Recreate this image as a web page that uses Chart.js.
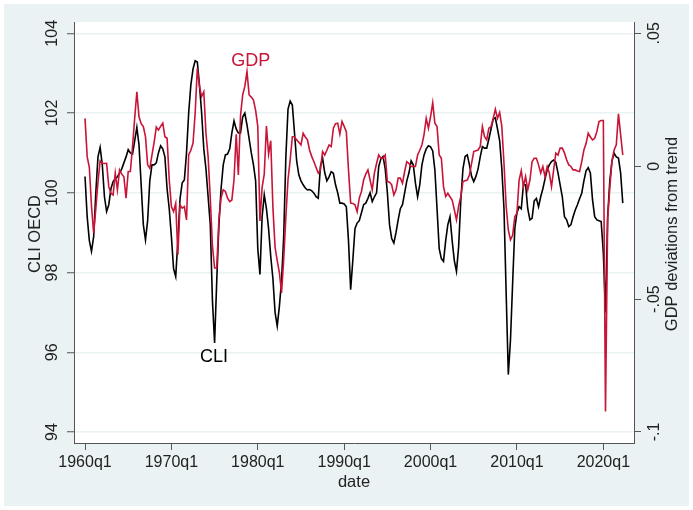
<!DOCTYPE html>
<html>
<head>
<meta charset="utf-8">
<script src="https://cdn.jsdelivr.net/npm/chart.js@4.4.1/dist/chart.umd.min.js"></script>
<style>
  html, body { margin: 0; padding: 0; background: #ffffff; }
  canvas { display: block; }
</style>
</head>
<body>
<canvas id="myChart" width="693" height="510"></canvas>
<script>
// quarters since 1960q1 (0 = 1960q1), one value per quarter
var firstYear = 1960;

var cliValues = [
  100.41, 99.4, 98.8, 98.53, 98.9, 100.0, 100.9, 101.14, 100.7, 99.9,
  99.53, 99.7, 100.1, 100.28, 100.35, 100.4, 100.49, 100.6, 100.75, 100.9,
  101.08, 101.0, 100.97, 101.3, 101.64, 101.2, 100.2, 99.2, 98.82, 99.3,
  100.3, 100.7, 100.7, 100.75, 101.0, 101.18, 101.1, 100.9, 100.1, 99.6,
  98.9, 98.1, 97.9, 98.8, 99.85, 100.25, 100.32, 101.0, 102.0, 102.7,
  103.1, 103.31, 103.28, 102.7, 102.0, 101.1, 100.6, 99.9, 99.2, 97.3,
  96.23, 97.8, 99.2, 100.1, 100.7, 100.95, 100.97, 101.1, 101.5, 101.8,
  101.6, 101.5, 101.5, 101.9, 102.0, 101.7, 101.35, 101.0, 100.7, 100.3,
  98.6, 97.95, 99.4, 99.95, 99.6, 99.1, 98.4, 97.85, 97.0, 96.66,
  97.15, 97.8, 98.9, 100.9, 102.1, 102.3, 102.2, 101.5, 100.8, 100.45,
  100.3, 100.2, 100.12, 100.07, 100.08, 100.05, 99.99, 99.9, 99.86, 100.66,
  100.87, 100.5, 100.3, 100.4, 100.53, 100.49, 100.2, 100.0, 99.74, 99.74,
  99.72, 99.65, 98.8, 97.57, 98.3, 99.1, 99.24, 99.3, 99.5, 99.7,
  99.74, 99.86, 100.0, 99.78, 99.9, 100.0, 100.66, 100.85, 100.91, 100.6,
  100.0, 99.2, 98.85, 98.74, 99.0, 99.32, 99.6, 99.7, 100.0, 100.3,
  100.5, 100.8, 100.7, 100.24, 99.9, 100.2, 100.7, 100.95, 101.1, 101.18,
  101.15, 101.05, 100.57, 99.6, 98.6, 98.35, 98.28, 98.8, 99.2, 99.4,
  98.8, 98.3, 98.03, 98.65, 99.8, 100.6, 100.91, 100.95, 100.7, 100.41,
  100.28, 100.41, 100.6, 100.9, 101.16, 101.12, 101.12, 101.35, 101.6, 101.85,
  101.88, 101.6, 101.3, 100.6, 99.6, 97.5, 95.44, 96.3, 97.73, 99.1,
  99.5, 99.65, 99.6, 100.2, 100.2, 99.6, 99.32, 99.36, 99.8, 99.86,
  99.65, 99.9, 100.1, 100.35, 100.57, 100.7, 100.78, 100.82, 100.76, 100.5,
  100.2, 99.9, 99.4, 99.32, 99.15, 99.2, 99.4, 99.57, 99.7, 99.85,
  99.99, 100.3, 100.55, 100.63, 100.5, 99.82, 99.4, 99.32, 99.3, 99.28,
  98.49, 97.0, 99.4, 100.3, 100.8, 100.99, 100.9, 100.87, 100.5, 99.74
];

var gdpValues = [
  0.018, 0.0036, -0.0005, -0.015, -0.0252, -0.016, -0.006, 0.002, 0.0011, 0.001,
  0.0011, -0.0077, -0.0102, -0.0108, -0.0026, -0.0089, -0.0014, -0.003, -0.004, -0.012,
  -0.002, -0.002, 0.0074, 0.018, 0.028, 0.0186, 0.016, 0.0149, 0.0111, 0.0005,
  -0.0008, 0.0042, 0.009, 0.0147, 0.0136, 0.015, 0.0162, 0.0111, 0.0105, -0.0052,
  -0.0152, -0.0171, -0.014, -0.0333, -0.0146, -0.0158, -0.0152, -0.0202, 0.0042, 0.006,
  0.0086, 0.0199, 0.0368, 0.03, 0.0262, 0.028, 0.0124, 0.0036, -0.012, -0.03,
  -0.0383, -0.0383, -0.02, -0.012, -0.0089, -0.0095, -0.012, -0.0133, -0.0127, -0.005,
  0.012, -0.0033, 0.019, 0.0268, 0.03, 0.0356, 0.0268, 0.026, 0.0249, 0.021,
  0.015, -0.0206, -0.008, -0.003, 0.0151, 0.0045, 0.0096, -0.0155, -0.0305, -0.0355,
  -0.04, -0.0477, -0.035, -0.019, -0.005, 0.0024, 0.0111, 0.0111, 0.0099, 0.009,
  0.008, 0.0124, 0.011, 0.0099, 0.006, 0.0036, 0.0017, -0.0005, -0.0026, -0.0014,
  0.0055, 0.0042, 0.006, 0.008, 0.0074, 0.0143, 0.016, 0.0162, 0.0121, 0.0168,
  0.015, 0.013, -0.0014, -0.0139, -0.014, -0.0145, -0.0171, -0.012, -0.0095, -0.0052,
  -0.003, -0.0014, -0.0052, -0.0089, -0.0026, 0.001, 0.0042, 0.003, 0.003, 0.0042,
  -0.0058, -0.006, -0.007, -0.0108, -0.009, -0.0045, -0.0045, -0.0064, -0.002, 0.0017,
  0.001, -0.0001, -0.0001, -0.0001, 0.0042, 0.006, 0.008, 0.012, 0.018, 0.0143,
  0.0186, 0.0239, 0.0162, 0.0149, 0.0042, 0.003, -0.0077, -0.0114, -0.0102, -0.0115,
  -0.0127, -0.0164, -0.0202, -0.015, -0.0114, -0.0058, -0.0055, -0.0052, -0.0033, 0.0011,
  0.0055, 0.0058, 0.0061, 0.0074, 0.0149, 0.0111, 0.0099, 0.0143, 0.0149, 0.018,
  0.0214, 0.018, 0.0202, 0.0149, 0.0011, -0.015, -0.024, -0.0277, -0.026, -0.019,
  -0.0177, -0.0052, -0.0017, -0.0077, -0.0039, -0.0089, -0.0052, 0.0017, 0.003, 0.003,
  0.0005, -0.0026, -0.0001, -0.0039, -0.0001, -0.0026, -0.0077, -0.0014, 0.0049, 0.0042,
  0.0068, 0.0068, 0.005, 0.0024, 0.0005, -0.0001, -0.0014, -0.0014, -0.0018, -0.002,
  0.0017, 0.0061, 0.0085, 0.0124, 0.011, 0.0099, 0.0105, 0.013, 0.0168, 0.0172,
  0.0172, -0.0923, -0.0202, -0.008, 0.002, 0.0061, 0.008, 0.0197, 0.012, 0.0042
];

var xTicks = [0, 40, 80, 120, 160, 200, 240];
var cliTicks = [94, 96, 98, 100, 102, 104];
var gdpTicks = [-0.1, -0.05, 0, 0.05];
var gdpTickLabels = ['-.1', '-.05', '0', '.05'];

// text labels placed in data units (quarter, CLI scale)
var gdpLabelAt = [76.8, 103.31];
var cliLabelAt = [59.7, 95.89];

var RED = 'rgb(200,20,55)';
var BG = '#eaf2f3';
var AXIS = '#555555';
var FONT = "'Liberation Sans', Arial, sans-serif";

var cliData = [];
var gdpData = [];
for (var i = 0; i < cliValues.length; i++) cliData.push({x: i, y: cliValues[i]});
for (var j = 0; j < gdpValues.length; j++) gdpData.push({x: j, y: gdpValues[j]});

var stataLook = {
  id: 'stataLook',
  beforeDraw: function(chart) {
    var ctx = chart.ctx, a = chart.chartArea;
    ctx.save();
    ctx.fillStyle = '#ffffff';
    ctx.fillRect(0, 0, chart.width, chart.height);
    ctx.fillStyle = BG;
    ctx.fillRect(4, 4, chart.width - 8, chart.height - 8);
    ctx.fillStyle = '#ffffff';
    ctx.fillRect(a.left, a.top, a.right - a.left, a.bottom - a.top);
    ctx.restore();
  },
  afterDraw: function(chart) {
    var ctx = chart.ctx;
    var y = chart.scales.y, y2 = chart.scales.y2, x = chart.scales.x;
    ctx.save();
    ctx.fillStyle = '#222';
    ctx.textAlign = 'center';
    ctx.textBaseline = 'middle';
    ctx.font = '16px ' + FONT;
    function vtext(t, px, py) {
      ctx.save();
      ctx.translate(px, py);
      ctx.rotate(-Math.PI / 2);
      ctx.fillText(t, 0, 0);
      ctx.restore();
    }
    cliTicks.forEach(function(v) { vtext(String(v), 53, y.getPixelForValue(v)); });
    gdpTicks.forEach(function(v, k) { vtext(gdpTickLabels[k], 655, y2.getPixelForValue(v)); });
    ctx.font = '16.5px ' + FONT;
    vtext('CLI OECD', 35, 234);
    vtext('GDP deviations from trend', 672, 234);

    ctx.font = '18px ' + FONT;
    ctx.fillStyle = RED;
    ctx.fillText('GDP', x.getPixelForValue(gdpLabelAt[0]), y.getPixelForValue(gdpLabelAt[1]));
    ctx.fillStyle = '#000';
    ctx.fillText('CLI', x.getPixelForValue(cliLabelAt[0]), y.getPixelForValue(cliLabelAt[1]));
    ctx.restore();
  }
};

var ctx = document.getElementById('myChart').getContext('2d');
var chart = new Chart(ctx, {
  type: 'line',
  data: {
    datasets: [{
      label: 'GDP',
      data: gdpData,
      yAxisID: 'y2',
      borderColor: RED,
      borderWidth: 1.6,
      pointRadius: 0,
      fill: false,
      tension: 0
    }, {
      label: 'CLI',
      data: cliData,
      yAxisID: 'y',
      borderColor: '#000000',
      borderWidth: 1.6,
      pointRadius: 0,
      fill: false,
      tension: 0
    }]
  },
  options: {
    responsive: false,
    animation: false,
    devicePixelRatio: 1,
    layout: { padding: { top: 22, left: 0, right: 0, bottom: 0 } },
    plugins: { legend: { display: false }, tooltip: { enabled: false } },
    scales: {
      x: {
        type: 'linear',
        min: -5.1,
        max: 254.2,
        afterBuildTicks: function(s) { s.ticks = xTicks.map(function(v) { return {value: v}; }); },
        afterFit: function(s) { s.height = 67; },
        grid: { drawOnChartArea: false, drawTicks: true, tickLength: 7, tickColor: AXIS, color: AXIS },
        border: { display: true, color: AXIS, width: 1 },
        ticks: {
          autoSkip: false, maxRotation: 0, padding: 3, color: '#222',
          font: { family: FONT, size: 16 },
          callback: function(v) { return (firstYear + v / 4) + 'q1'; }
        },
        title: { display: true, text: 'date', color: '#222', font: { family: FONT, size: 16.5 }, padding: { top: 0, bottom: 18 } }
      },
      y: {
        type: 'linear',
        position: 'left',
        min: 93.724,
        max: 104.283,
        afterBuildTicks: function(s) { s.ticks = cliTicks.map(function(v) { return {value: v}; }); },
        afterFit: function(s) { s.width = 74; },
        grid: { color: BG, lineWidth: 1.5, drawTicks: true, tickLength: 7, tickColor: AXIS, tickWidth: 1 },
        border: { display: true, color: AXIS, width: 1 },
        ticks: { display: false }
      },
      y2: {
        type: 'linear',
        position: 'right',
        min: -0.10414,
        max: 0.05425,
        afterBuildTicks: function(s) { s.ticks = gdpTicks.map(function(v) { return {value: v}; }); },
        afterFit: function(s) { s.width = 59; },
        grid: { drawOnChartArea: false, drawTicks: true, tickLength: 7, tickColor: AXIS, color: AXIS },
        border: { display: true, color: AXIS, width: 1 },
        ticks: { display: false }
      }
    }
  },
  plugins: [stataLook]
});
</script>
</body>
</html>
